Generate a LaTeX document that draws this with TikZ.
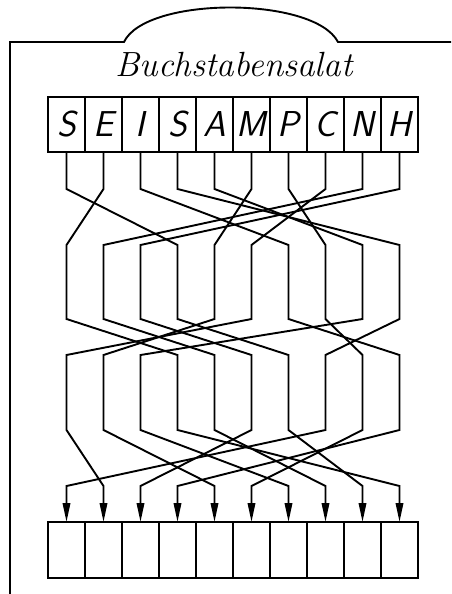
\documentclass[tikz,border=0pt]{standalone}
\usetikzlibrary{arrows.meta}

\begin{document}
\begin{tikzpicture}[x=1pt,y=-1pt,
    cell/.style={draw,line width=1.6pt,minimum width=37pt,minimum height=55pt,
      inner sep=0pt,outer sep=0pt,font=\fontsize{36}{36}\selectfont\sffamily\slshape},
    wire/.style={line width=1.9pt,-{Triangle[length=19pt,width=7.5pt]}},
    frame/.style={line width=1.9pt}]
    \useasboundingbox (0,0) rectangle (451,594);
    % Rahmen mit Bogen
    \draw[frame] (10,594) -- (10,42) -- (124,42)
      .. controls (146,-4) and (314,-4) .. (338,42) -- (451,42);
    \node[anchor=base,font=\fontsize{35}{35}\selectfont\itshape] (title) at (234,77) {Buchstabensalat};
    % Kaestchen oben und unten
    \foreach \l [count=\i from 0] in {S,E,I,S,A,M,P,C,N,H} {
      \node[cell] (t\i) at (66.5+37*\i,124.5) {\l};
      \node[cell,minimum height=56pt] (b\i) at (66.5+37*\i,550) {};
    }
    % Knickhoehen der drei Kreuzungen
    \coordinate (s1) at (0,189);  \coordinate (e1) at (0,245);
    \coordinate (s2) at (0,319);  \coordinate (e2) at (0,355);
    \coordinate (s3) at (0,430);  \coordinate (e3) at (0,486);
    \foreach \a/\b/\c/\d in {0/3/6/8, 1/0/3/9, 2/6/9/3, 3/9/7/0, 4/8/2/6,
                             5/4/1/4, 6/7/8/5, 7/5/0/1, 8/1/4/7, 9/2/5/2}
      \draw[wire] (t\a.south) -- (t\a |- s1) -- (t\b |- e1) -- (t\b |- s2)
        -- (t\c |- e2) -- (t\c |- s3) -- (b\d |- e3) -- (b\d.north);
\end{tikzpicture}
\end{document}
